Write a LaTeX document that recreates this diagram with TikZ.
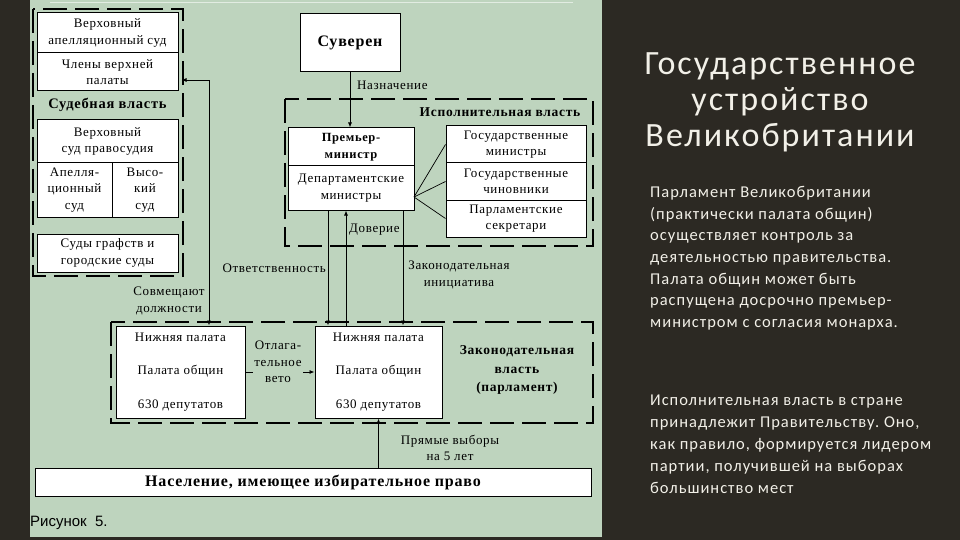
\documentclass[tikz,border=0pt]{standalone}
\usepackage{fontspec}
\setmainfont{Liberation Serif}[LetterSpace=5]
\newfontfamily\slidefont{Carlito}[LetterSpace=6]
\newfontfamily\capfont{Liberation Sans}
\usetikzlibrary{arrows.meta,positioning,calc}
\definecolor{panelgreen}{RGB}{190,212,190}
\definecolor{slidedark}{RGB}{44,41,35}
\definecolor{slidetext}{RGB}{242,240,232}
\frenchspacing

\begin{document}
\begin{tikzpicture}[x=1pt,y=-1pt,
  box/.style={draw, fill=white, line width=1pt, align=center, inner sep=0pt, font=\fontsize{13}{16.5}\selectfont},
  frame/.style={line width=1.6pt, dash pattern=on 24pt off 8pt},
  lbl/.style={font=\fontsize{13}{16.5}\selectfont, align=center, inner sep=1pt},
  head/.style={font=\bfseries\fontsize{13.5}{18.5}\selectfont, align=center, inner sep=1pt},
  arr/.style={-{Latex[length=5pt,width=4pt]}, line width=0.8pt},
  arrs/.style={{Latex[length=5pt,width=4pt]}-{Latex[length=5pt,width=4pt]}, line width=0.8pt},
  slide/.style={text=slidetext, inner sep=0pt}]
\useasboundingbox (0,0) rectangle (960,540);
% slide and figure panel
\fill[slidedark] (0,0) rectangle (960,540);
\fill[panelgreen] (30,0) rectangle (602,537);
\draw[white!55!panelgreen, line width=1pt] (50,2.5) -- (573,2.5);

% judicial power
\node[box, minimum width=141pt, minimum height=40pt] (vas) at (107.5,33) {Верховный\\апелляционный суд};
\node[box, minimum width=141pt, minimum height=38pt] (chlen) at (107.5,72) {Члены верхней\\палаты};
\node[head, font=\bfseries\fontsize{14.5}{16}\selectfont] (jud) at (107.5,105) {Судебная власть};
\node[box, minimum width=141pt, minimum height=43pt] (vsp) at (107.5,141.5) {Верховный\\суд правосудия};
\node[box, minimum width=75pt, minimum height=54pt] (aps) at (74.5,190) {Апелля-\\ционный\\суд};
\node[box, minimum width=66pt, minimum height=54pt] (vys) at (145,190) {Высо-\\кий\\суд};
\node[box, minimum width=141pt, minimum height=38pt] (sgs) at (107.5,253) {Суды графств и\\городские суды};
\draw[frame] (33,9) rectangle (183,276);

% sovereign
\node[box, minimum width=100pt, minimum height=58pt, font=\bfseries\fontsize{16}{18}\selectfont] (suv) at (350,43) {Суверен};

% executive power
\draw[frame] (285,99) rectangle (593,246);
\node[head] (exec) at (500,112) {Исполнительная власть};
\node[box, minimum width=126pt, minimum height=38pt, font=\bfseries\fontsize{12.5}{16.5}\selectfont] (prem) at (351,147) {Премьер-\\министр};
\node[box, minimum width=126pt, minimum height=44pt] (dep) at (351,188) {Департаментские\\министры};
\foreach \n/\y/\t in {gm/144.5/{Государственные\\министры}, gch/181.5/{Государственные\\чиновники}, ps/218.5/{Парламентские\\секретари}}
  \node[box, minimum width=140pt, minimum height=37pt] (\n) at (516,\y) {\t};
\coordinate (hub) at (414,197);
\foreach \n in {gm,gch,ps}
  \draw[line width=0.7pt] (hub) -- (\n.west);

% legislative power
\draw[frame] (111,322) rectangle (593,423);
\node[box, minimum width=129pt, minimum height=92pt] (lowL) at (180.5,372) {Нижняя палата\\[17pt]Палата общин\\[17pt]630 депутатов};
\node[box, minimum width=127pt, minimum height=92pt] (lowR) at (378.5,372) {Нижняя палата\\[17pt]Палата общин\\[17pt]630 депутатов};
\node[head] (parl) at (517,370) {Законодательная\\власть\\(парламент)};

% electorate
\node[box, minimum width=556pt, minimum height=28pt, font=\bfseries\fontsize{16}{18}\selectfont] (pop) at (313,482) {Население, имеющее избирательное право};

% connections
\draw[arr] (suv.south) -- (suv.south |- prem.north);
\node[lbl, anchor=west] (nazn) at (356,85) {Назначение};
\draw[arrs] ([xshift=3pt,yshift=-8pt]chlen.east) -| ([xshift=28.5pt]lowL.north);
\node[lbl] (sovm) at (169,301) {Совмещают\\должности};
\draw[arr] ([xshift=-23pt]dep.south) -- ([xshift=-23pt]dep.south |- lowR.north);
\draw[arr] ([xshift=-5pt]dep.south |- lowR.north) -- ([xshift=-5pt]dep.south);
\draw[arr] ([xshift=52pt]dep.south) -- ([xshift=52pt]dep.south |- lowR.north);
\node[lbl, anchor=east] (otv) at (327,268) {Ответственность};
\node[lbl, anchor=west] (dov) at (348,230) {Доверие};
\node[lbl] (zin) at (459,275) {Законодательная\\инициатива};
\draw[arr] (lowL.east) -- (lowR.west);
\node[lbl, fill=panelgreen] (veto) at (278,362) {Отлага-\\тельное\\вето};
\draw[arr] (pop.north -| lowR.south) -- (lowR.south);
\node[lbl] (vyb) at (450,448) {Прямые выборы\\на 5 лет};
\node[anchor=west, inner sep=0pt, font=\capfont\fontsize{15}{17}\selectfont] (ris) at (30,523) {Рисунок\ \ 5.};

% slide text
\node[slide, anchor=north, align=center, font=\slidefont\fontsize{34}{36}\selectfont] (title) at (780,52) {Государственное\\устройство\\Великобритании};
\node[slide, anchor=north west, align=left, font=\slidefont\fontsize{16.5}{21.7}\selectfont] (par1) at (650,186) {Парламент Великобритании\\(практически палата общин)\\осуществляет контроль за\\деятельностью правительства.\\Палата общин может быть\\распущена досрочно премьер-\\министром с согласия монарха.};
\node[slide, anchor=north west, align=left, font=\slidefont\fontsize{16.5}{22}\selectfont] (par2) at (650,395) {Исполнительная власть в стране\\принадлежит Правительству. Оно,\\как правило, формируется лидером\\партии, получившей на выборах\\большинство мест};
\end{tikzpicture}
\end{document}
